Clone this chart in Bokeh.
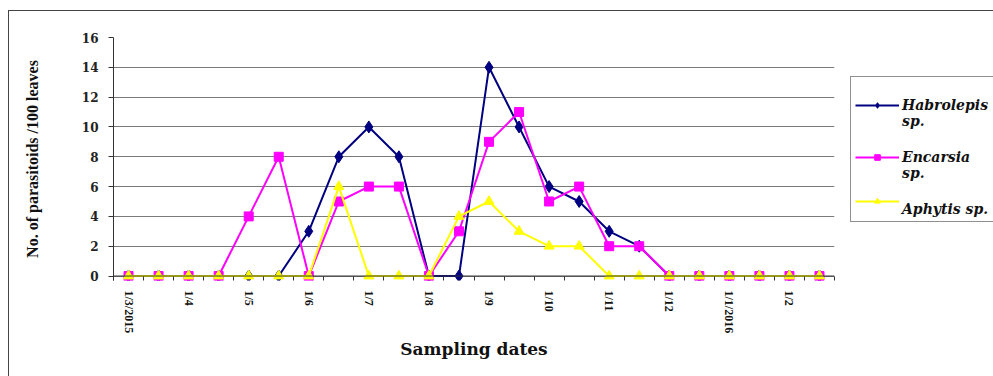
from bokeh.plotting import figure
from bokeh.layouts import row
from bokeh.models import FixedTicker, Range1d, Span, Legend, LegendItem
from bokeh.embed import file_html
from bokeh.resources import INLINE

# ---- data ----
dates = ["1/3/2015", "", "1/4", "", "1/5", "", "1/6", "", "1/7", "", "1/8", "",
         "1/9", "", "1/10", "", "1/11", "", "1/12", "", "1/1/2016", "", "1/2", ""]
idx = list(range(len(dates)))
habrolepis = [0, 0, 0, 0, 0, 0, 3, 8, 10, 8, 0, 0, 14, 10, 6, 5, 3, 2, 0, 0, 0, 0, 0, 0]
encarsia = [0, 0, 0, 0, 4, 8, 0, 5, 6, 6, 0, 3, 9, 11, 5, 6, 2, 2, 0, 0, 0, 0, 0, 0]
aphytis = [0, 0, 0, 0, 0, 0, 0, 6, 0, 0, 0, 4, 5, 3, 2, 2, 0, 0, 0, 0, 0, 0, 0, 0]
y_ticks = [0, 2, 4, 6, 8, 10, 12, 14, 16]

series = [
    ("\nHabrolepis\nsp.", habrolepis, "#000080", "diamond", 12),
    ("\nEncarsia\nsp.", encarsia, "#FF00FF", "square", 9),
    ("\nAphytis sp.\n", aphytis, "#FFFF00", "triangle", 10),
]

p = figure(width=841, height=365, output_backend="svg", toolbar_location=None,
           x_range=Range1d(-0.5, len(dates) - 0.5), y_range=Range1d(-0.3, 16),
           min_border_left=104, min_border_right=16, min_border_top=26,
           min_border_bottom=96)
p.outline_line_color = None
p.xgrid.grid_line_color = None
p.ygrid.grid_line_color = "#7a7a7a"
p.ygrid.grid_line_width = 1

# y axis
p.yaxis.ticker = FixedTicker(ticks=y_ticks, minor_ticks=[])
p.yaxis.axis_line_color = "#333333"
p.yaxis.major_tick_line_color = "#333333"
p.yaxis.major_tick_out = 5
p.yaxis.major_tick_in = 0
p.yaxis.minor_tick_line_color = None
p.yaxis.major_label_text_font = "DejaVu Serif"
p.yaxis.major_label_text_font_style = "bold"
p.yaxis.major_label_text_font_size = "12px"
p.yaxis.major_label_text_color = "#222222"
p.yaxis.major_label_standoff = 10
p.yaxis.axis_label = "No. of parasitoids /100 leaves"
p.yaxis.axis_label_text_font = "Liberation Serif"
p.yaxis.axis_label_text_font_style = "bold"
p.yaxis.axis_label_text_font_size = "16px"
p.yaxis.axis_label_text_color = "#111111"
p.yaxis.axis_label_standoff = 38

# x axis
labeled = [i for i in idx if dates[i]]
p.xaxis.ticker = FixedTicker(ticks=labeled, minor_ticks=[i - 0.5 for i in range(len(dates) + 1)])
p.xaxis.major_label_overrides = {i: dates[i] for i in labeled}
p.xaxis.axis_line_color = None
p.xaxis.major_tick_line_color = None
p.xaxis.minor_tick_line_color = "#333333"
p.xaxis.minor_tick_in = 4
p.xaxis.minor_tick_out = 0
p.xaxis.major_label_orientation = "vertical"
p.xaxis.major_label_text_font = "Liberation Serif"
p.xaxis.major_label_text_font_style = "bold"
p.xaxis.major_label_text_font_size = "12px"
p.xaxis.major_label_text_color = "#111111"
p.xaxis.major_label_standoff = 4
p.xaxis.axis_label = "Sampling dates"
p.xaxis.axis_label_text_font = "DejaVu Serif"
p.xaxis.axis_label_text_font_style = "bold"
p.xaxis.axis_label_text_font_size = "17px"
p.xaxis.axis_label_text_color = "#111111"
p.xaxis.axis_label_standoff = 3

p.add_layout(Span(location=0, dimension="width", line_color="#333333", line_width=1))

# legend panel (separate figure so the box can sit outside the plot area)
lg = figure(width=144, height=365, output_backend="svg", toolbar_location=None,
            min_border=0, x_axis_type=None, y_axis_type=None)
lg.outline_line_color = None
lg.grid.grid_line_color = None

nan = float("nan")
items = []
for name, vals, color, marker, size in series:
    p.line(idx, vals, line_color=color, line_width=2)
    p.scatter(idx, vals, marker=marker, size=size, fill_color=color, line_color=color)
    k_ln = lg.line([nan], [nan], line_color=color, line_width=2)
    k_sc = lg.scatter([nan], [nan], marker=marker, size=size, fill_color=color, line_color=color)
    items.append(LegendItem(label=name, renderers=[k_ln, k_sc]))

legend = Legend(items=items, location=(0, 58),
                border_line_color="#222222", border_line_width=1,
                background_fill_color="white", background_fill_alpha=1,
                padding=4, spacing=4, margin=0,
                glyph_width=44, glyph_height=14, label_standoff=3, label_width=99,
                label_text_font="DejaVu Serif", label_text_font_style="bold italic",
                label_text_font_size="14px", label_text_line_height=1.0,
                label_text_color="#111111")
lg.add_layout(legend, "center")

layout = row(p, lg, spacing=0,
             styles={"border-top": "1px solid #444", "border-left": "1px solid #444",
                     "margin-left": "8px", "margin-top": "10px"})

open("out.html", "w").write(file_html(layout, INLINE))
